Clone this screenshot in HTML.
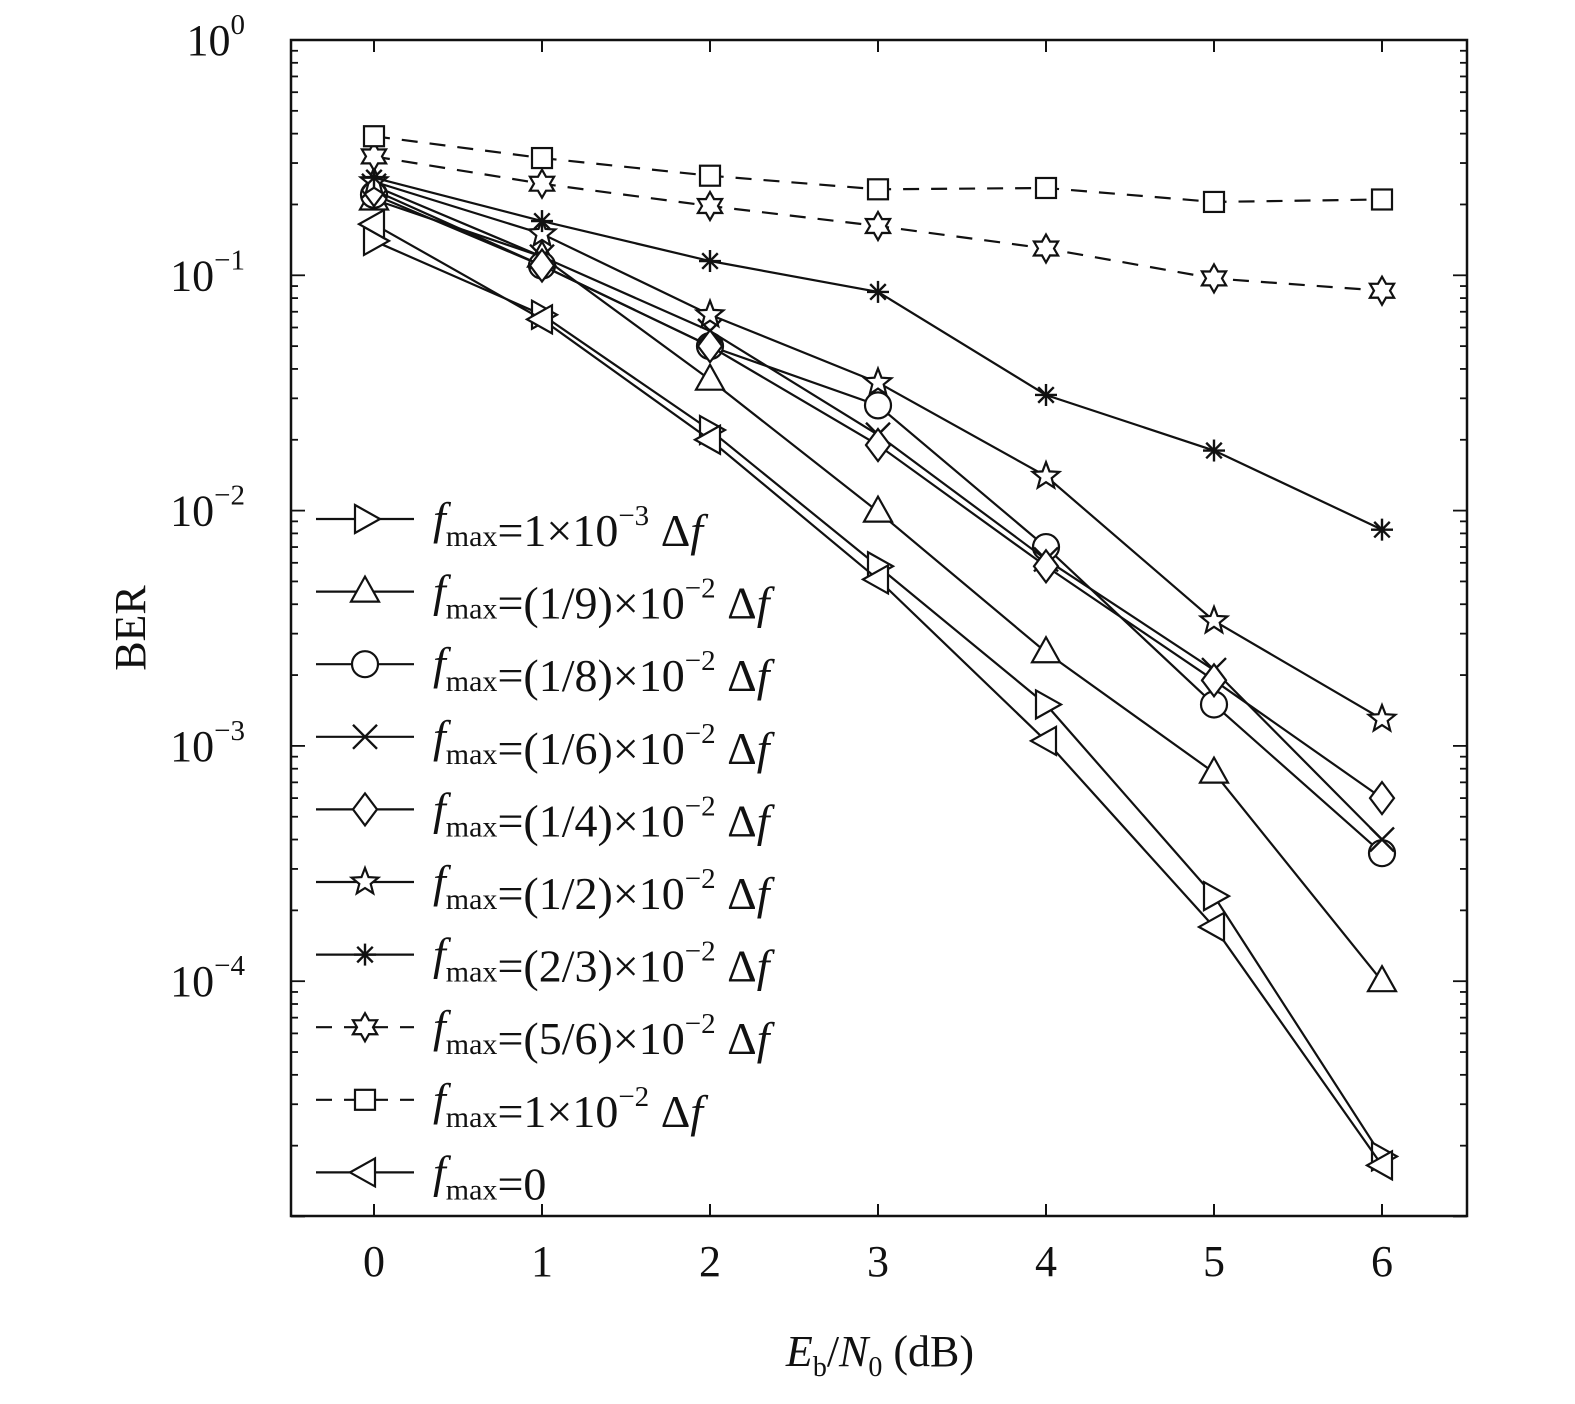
<!DOCTYPE html>
<html><head><meta charset="utf-8"><style>
body{margin:0;background:#fff}
svg text{font-family:"Liberation Serif",serif;fill:#111}
</style></head><body>
<svg id="chart" width="1575" height="1399" xmlns="http://www.w3.org/2000/svg">
<g id="axes"></g>
<g id="series"></g>
<g id="legend"></g>
<text x="145" y="628" font-size="44" text-anchor="middle" transform="rotate(-90 145 628)">BER</text>
<text x="880" y="1366" font-size="44" text-anchor="middle"><tspan font-style="italic">E</tspan><tspan font-size="28" dy="10">b</tspan><tspan dy="-10">/</tspan><tspan font-style="italic">N</tspan><tspan font-size="28" dy="10">0</tspan><tspan dy="-10"> (dB)</tspan></text>
</svg>
<script>
const xCategories=[0,1,2,3,4,5,6];
const yTickExps=[0,-1,-2,-3,-4];
const seriesNames=["1×10−3","(1/9)×10−2","(1/8)×10−2","(1/6)×10−2","(1/4)×10−2","(1/2)×10−2","(2/3)×10−2","(5/6)×10−2","1×10−2","0"];
const s1=[0.14,0.068,0.022,0.0058,0.0015,0.00023,1.8e-5];
const s2=[0.21,0.12,0.036,0.0099,0.0025,0.00077,1.0e-4];
const s3=[0.22,0.11,0.05,0.028,0.007,0.0015,0.00035];
const s4=[0.24,0.12,0.058,0.021,0.0062,0.0021,0.0004];
const s5=[0.23,0.11,0.05,0.019,0.0058,0.0019,0.0006];
const s6=[0.25,0.15,0.068,0.035,0.014,0.0034,0.0013];
const s7=[0.26,0.17,0.115,0.085,0.031,0.018,0.0083];
const s8=[0.32,0.245,0.197,0.162,0.13,0.097,0.086];
const s9=[0.39,0.315,0.265,0.232,0.235,0.205,0.21];
const s10=[0.165,0.065,0.02,0.0051,0.00105,0.00017,1.65e-5];
const allSeries=[s1,s2,s3,s4,s5,s6,s7,s8,s9,s10];
const markers=["tri-right","tri-up","circle","x","diamond","star","asterisk","hexagram","square","tri-left"];
const dashed=[false,false,false,false,false,false,false,true,true,false];

const L=291,R=1467,T=40,B=1216;
const xs=v=>374+(v-0)*168;
const ys=v=>T+(-Math.log10(v))*235.3;
const NS="http://www.w3.org/2000/svg";
function mk(tag,attrs,parent){const e=document.createElementNS(NS,tag);for(const k in attrs)e.setAttribute(k,attrs[k]);parent.appendChild(e);return e;}
const axes=document.getElementById('axes');
const frame=mk('rect',{x:L,y:T,width:R-L,height:B-T,fill:'none',stroke:'#111','stroke-width':2.5},axes);


xCategories.forEach(c=>{
  const x=xs(c);
  mk('line',{x1:x,y1:B,x2:x,y2:B-12,stroke:'#111','stroke-width':2},axes);
  mk('line',{x1:x,y1:T,x2:x,y2:T+12,stroke:'#111','stroke-width':2},axes);
  const t=mk('text',{x:x,y:B+60,'font-size':44,'text-anchor':'middle'},axes);
  
  
  t.textContent=c;
});
for(let e=0;e>-5;e--){
  for(let m=1;m<10;m++){
    const v=m*Math.pow(10,e-1);const y=ys(v);
    const len=m==1?14:7;
    mk('line',{x1:L,y1:y,x2:L+len,y2:y,stroke:'#111','stroke-width':1.8},axes);
    mk('line',{x1:R,y1:y,x2:R-len,y2:y,stroke:'#111','stroke-width':1.8},axes);
  }
}
yTickExps.forEach(e=>{
  const y=ys(Math.pow(10,e));
  const t=mk('text',{x:245,y:y+15,'font-size':44,'text-anchor':'end'},axes);
  
  
  t.innerHTML='10<tspan font-size="29" dy="-21">'+(e==0?'0':'−'+(-e))+'</tspan>';
});
function marker(g,type,x,y){
  const st={fill:'#fff',stroke:'#111','stroke-width':2.2};const r=13;
  let p;
  switch(type){
    case 'tri-right':p=`${x-10},${y-14} ${x+15},${y} ${x-10},${y+14}`;return mk('polygon',{points:p,...st},g);
    case 'tri-left':p=`${x+10},${y-14} ${x-15},${y} ${x+10},${y+14}`;return mk('polygon',{points:p,...st},g);
    case 'tri-up':p=`${x},${y-15} ${x+14},${y+10} ${x-14},${y+10}`;return mk('polygon',{points:p,...st},g);
    case 'circle':return mk('circle',{cx:x,cy:y,r:r,...st},g);
    case 'diamond':p=`${x},${y-16} ${x+12},${y} ${x},${y+16} ${x-12},${y}`;return mk('polygon',{points:p,...st},g);
    case 'square':return mk('rect',{x:x-10,y:y-10,width:20,height:20,...st},g);
    case 'x':{const q=mk('g',{},g);mk('line',{x1:x-12,y1:y-12,x2:x+12,y2:y+12,stroke:'#111','stroke-width':2.4},q);mk('line',{x1:x-12,y1:y+12,x2:x+12,y2:y-12,stroke:'#111','stroke-width':2.4},q);return q;}
    case 'asterisk':{const q=mk('g',{},g);for(let a=0;a<4;a++){const an=a*Math.PI/4;mk('line',{x1:x-11*Math.cos(an),y1:y-11*Math.sin(an),x2:x+11*Math.cos(an),y2:y+11*Math.sin(an),stroke:'#111','stroke-width':2.4},q);}return q;}
    case 'star':{let pts=[];for(let i=0;i<10;i++){const rr=i%2?6:14;const an=-Math.PI/2+i*Math.PI/5;pts.push((x+rr*Math.cos(an)).toFixed(1)+','+(y+rr*Math.sin(an)).toFixed(1));}return mk('polygon',{points:pts.join(' '),...st},g);}
    case 'hexagram':{let pts=[];for(let i=0;i<12;i++){const rr=i%2?8:14;const an=-Math.PI/2+i*Math.PI/6;pts.push((x+rr*Math.cos(an)).toFixed(1)+','+(y+rr*Math.sin(an)).toFixed(1));}return mk('polygon',{points:pts.join(' '),...st},g);}
  }
}
const sg=document.getElementById('series');
allSeries.forEach((s,i)=>{
  const g=mk('g',{},sg);
  
  
  const pts=s.map((v,j)=>xs(xCategories[j])+','+ys(v)).join(' ');
  const pl=mk('polyline',{points:pts,fill:'none',stroke:'#111','stroke-width':2.2,'stroke-dasharray':dashed[i]?'16,12':'none'},g);
  
  
  s.forEach((v,j)=>{const m=marker(g,markers[i],xs(xCategories[j]),ys(v));
    
    });
});
const lg=document.getElementById('legend');
seriesNames.forEach((n,i)=>{
  const y=519+i*72.6;
  const g=mk('g',{},lg);
  
  
  mk('line',{x1:316,y1:y,x2:414,y2:y,stroke:'#111','stroke-width':2.2,'stroke-dasharray':dashed[i]?'16,12':'none'},g);
  marker(g,markers[i],365,y);
  const t=mk('text',{x:433,y:y+15,'font-size':46},g);
  let val;
  if(n==='0')val='=0';
  else{const m=n.match(/^(.*)10−(\d)$/);val='='+m[1]+'10<tspan font-size="29" dy="-21">−'+m[2]+'</tspan><tspan dy="21"> Δ</tspan><tspan font-style="italic">f</tspan>';}
  t.innerHTML='<tspan font-style="italic">f</tspan><tspan font-size="30" dy="12">max</tspan><tspan dy="-12">'+'</tspan>'+val;
});
</script>
</body></html>
